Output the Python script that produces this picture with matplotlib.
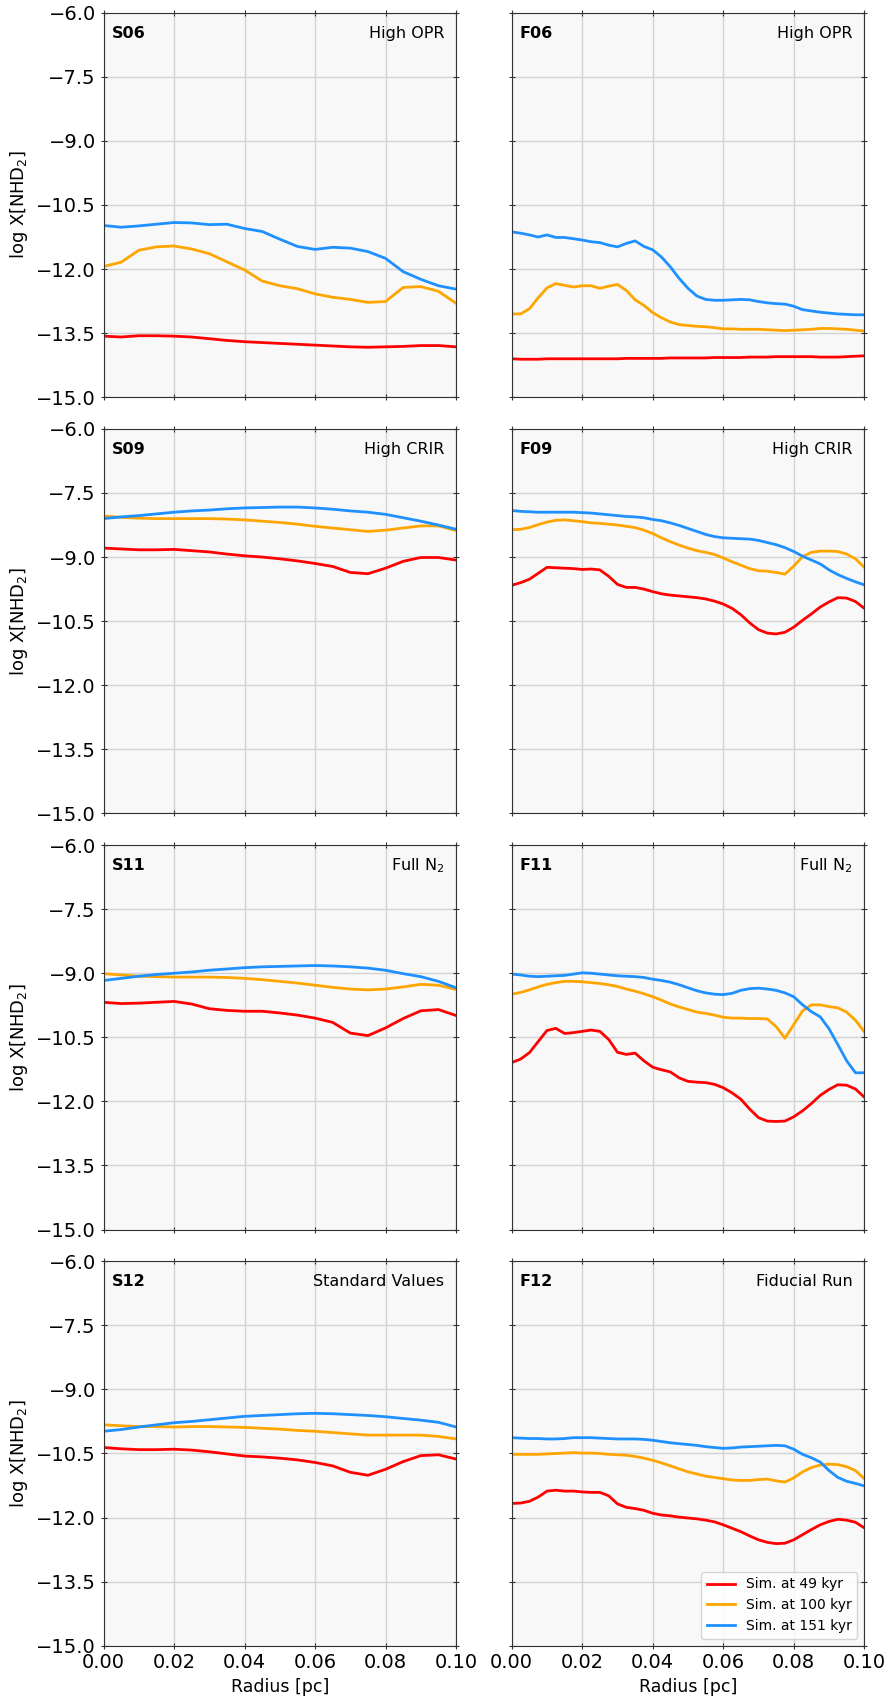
import numpy as np
import matplotlib
matplotlib.use('Agg')
import matplotlib.pyplot as plt
from matplotlib.ticker import FuncFormatter

# radius grids [pc]
r_left = np.linspace(0, 0.1, 21)     # S-runs, step 0.005
r_right = np.linspace(0, 0.1, 41)    # F-runs, step 0.0025

labels = ['Sim. at 49 kyr', 'Sim. at 100 kyr', 'Sim. at 151 kyr']
colors = ['#ff0000', '#ffa500', '#1e90ff']

# ---- S runs (log X[NHD2]) ----
s06_49 = [-13.57, -13.59, -13.56, -13.56, -13.57, -13.59, -13.63, -13.67, -13.70, -13.72, -13.74,
          -13.76, -13.78, -13.80, -13.82, -13.83, -13.82, -13.81, -13.79, -13.79, -13.82]
s06_100 = [-11.94, -11.84, -11.56, -11.48, -11.46, -11.53, -11.64, -11.83, -12.02, -12.28, -12.39,
           -12.46, -12.58, -12.66, -12.71, -12.78, -12.76, -12.43, -12.41, -12.52, -12.80]
s06_151 = [-10.98, -11.02, -10.99, -10.95, -10.91, -10.92, -10.96, -10.95, -11.05, -11.12, -11.30,
           -11.47, -11.54, -11.49, -11.51, -11.59, -11.75, -12.06, -12.24, -12.39, -12.47]

s09_49 = [-8.79, -8.81, -8.83, -8.83, -8.82, -8.85, -8.88, -8.93, -8.97, -9.00, -9.04,
          -9.09, -9.15, -9.22, -9.36, -9.39, -9.26, -9.10, -9.01, -9.01, -9.07]
s09_100 = [-8.04, -8.07, -8.09, -8.10, -8.10, -8.10, -8.10, -8.11, -8.13, -8.16, -8.19,
           -8.23, -8.28, -8.32, -8.36, -8.40, -8.37, -8.32, -8.27, -8.27, -8.38]
s09_151 = [-8.10, -8.06, -8.03, -7.99, -7.95, -7.92, -7.90, -7.87, -7.85, -7.84, -7.83,
           -7.83, -7.85, -7.88, -7.92, -7.95, -8.00, -8.08, -8.16, -8.25, -8.35]

s11_49 = [-9.68, -9.71, -9.70, -9.68, -9.66, -9.72, -9.83, -9.87, -9.89, -9.89, -9.93,
          -9.98, -10.05, -10.15, -10.40, -10.46, -10.28, -10.06, -9.88, -9.85, -9.99]
s11_100 = [-9.01, -9.04, -9.07, -9.08, -9.09, -9.09, -9.09, -9.10, -9.12, -9.15, -9.19,
           -9.23, -9.28, -9.33, -9.37, -9.39, -9.37, -9.32, -9.26, -9.28, -9.38]
s11_151 = [-9.17, -9.12, -9.07, -9.03, -9.00, -8.97, -8.93, -8.90, -8.87, -8.85, -8.84,
           -8.83, -8.82, -8.83, -8.85, -8.88, -8.93, -9.01, -9.08, -9.19, -9.34]

s12_49 = [-10.36, -10.39, -10.41, -10.41, -10.40, -10.42, -10.46, -10.51, -10.56, -10.58, -10.61,
          -10.65, -10.71, -10.79, -10.94, -11.01, -10.87, -10.69, -10.55, -10.53, -10.63]
s12_100 = [-9.83, -9.85, -9.87, -9.87, -9.88, -9.87, -9.87, -9.88, -9.89, -9.91, -9.93,
           -9.96, -9.98, -10.01, -10.04, -10.07, -10.07, -10.07, -10.07, -10.10, -10.16]
s12_151 = [-9.98, -9.94, -9.88, -9.83, -9.78, -9.75, -9.71, -9.67, -9.63, -9.61, -9.59,
           -9.57, -9.56, -9.57, -9.59, -9.61, -9.64, -9.68, -9.72, -9.77, -9.88]

# ---- F runs ----
f06_49 = [-14.10, -14.11, -14.11, -14.11, -14.10, -14.10, -14.10, -14.10, -14.10, -14.10,
          -14.10, -14.10, -14.10, -14.09, -14.09, -14.09, -14.09, -14.09, -14.08, -14.08,
          -14.08, -14.08, -14.08, -14.07, -14.07, -14.07, -14.07, -14.06, -14.06, -14.06,
          -14.05, -14.05, -14.05, -14.05, -14.05, -14.06, -14.06, -14.06, -14.05, -14.04, -14.03]
f06_100 = [-13.05, -13.05, -12.93, -12.67, -12.44, -12.34, -12.38, -12.42, -12.39, -12.39,
           -12.45, -12.40, -12.36, -12.50, -12.72, -12.85, -13.02, -13.14, -13.24, -13.30,
           -13.32, -13.34, -13.35, -13.37, -13.40, -13.40, -13.41, -13.41, -13.41, -13.42,
           -13.43, -13.44, -13.43, -13.42, -13.41, -13.39, -13.39, -13.40, -13.41, -13.43, -13.45]
f06_151 = [-11.13, -11.16, -11.20, -11.25, -11.20, -11.26, -11.26, -11.29, -11.32, -11.36,
           -11.38, -11.44, -11.48, -11.40, -11.34, -11.47, -11.55, -11.72, -11.95, -12.22,
           -12.45, -12.63, -12.71, -12.73, -12.73, -12.72, -12.71, -12.72, -12.76, -12.79,
           -12.81, -12.82, -12.87, -12.95, -12.98, -13.01, -13.03, -13.05, -13.06, -13.07, -13.07]

f09_49 = [-9.66, -9.60, -9.52, -9.38, -9.24, -9.25, -9.26, -9.27, -9.29, -9.28,
          -9.30, -9.45, -9.64, -9.71, -9.71, -9.75, -9.81, -9.86, -9.89, -9.91,
          -9.93, -9.95, -9.98, -10.03, -10.10, -10.20, -10.35, -10.54, -10.70, -10.78,
          -10.80, -10.76, -10.64, -10.48, -10.33, -10.17, -10.05, -9.95, -9.96, -10.04, -10.20]
f09_100 = [-8.36, -8.35, -8.31, -8.24, -8.18, -8.14, -8.13, -8.15, -8.17, -8.20,
           -8.21, -8.23, -8.25, -8.28, -8.31, -8.37, -8.45, -8.55, -8.64, -8.72,
           -8.79, -8.85, -8.89, -8.94, -9.02, -9.11, -9.19, -9.27, -9.32, -9.33,
           -9.36, -9.40, -9.21, -8.99, -8.89, -8.86, -8.86, -8.87, -8.93, -9.04, -9.24]
f09_151 = [-7.91, -7.93, -7.94, -7.95, -7.95, -7.95, -7.95, -7.95, -7.96, -7.97,
           -7.99, -8.01, -8.03, -8.05, -8.06, -8.08, -8.12, -8.15, -8.20, -8.26,
           -8.33, -8.40, -8.47, -8.52, -8.55, -8.56, -8.57, -8.58, -8.61, -8.66,
           -8.71, -8.78, -8.87, -8.98, -9.07, -9.16, -9.30, -9.41, -9.50, -9.58, -9.65]

f11_49 = [-11.09, -11.01, -10.86, -10.60, -10.34, -10.29, -10.41, -10.39, -10.36, -10.33,
          -10.36, -10.55, -10.85, -10.90, -10.87, -11.05, -11.20, -11.26, -11.31, -11.45,
          -11.53, -11.55, -11.56, -11.60, -11.68, -11.80, -11.95, -12.18, -12.38, -12.46,
          -12.47, -12.46, -12.36, -12.22, -12.05, -11.86, -11.72, -11.61, -11.62, -11.71, -11.90]
f11_100 = [-9.49, -9.45, -9.39, -9.32, -9.26, -9.22, -9.19, -9.19, -9.20, -9.22,
           -9.24, -9.27, -9.31, -9.37, -9.42, -9.48, -9.55, -9.63, -9.72, -9.79,
           -9.85, -9.91, -9.94, -9.98, -10.03, -10.05, -10.05, -10.06, -10.06, -10.07,
           -10.25, -10.52, -10.20, -9.88, -9.74, -9.74, -9.78, -9.81, -9.91, -10.10, -10.37]
f11_151 = [-9.02, -9.04, -9.07, -9.08, -9.07, -9.06, -9.05, -9.02, -8.99, -9.00,
           -9.02, -9.04, -9.06, -9.07, -9.08, -9.10, -9.14, -9.17, -9.21, -9.27,
           -9.34, -9.41, -9.46, -9.49, -9.50, -9.47, -9.40, -9.36, -9.35, -9.37,
           -9.40, -9.46, -9.55, -9.74, -9.90, -10.02, -10.30, -10.67, -11.05, -11.33, -11.33]

f12_49 = [-11.67, -11.66, -11.62, -11.52, -11.38, -11.36, -11.38, -11.38, -11.40, -11.41,
          -11.41, -11.49, -11.68, -11.76, -11.79, -11.83, -11.90, -11.94, -11.96, -11.99,
          -12.01, -12.03, -12.06, -12.10, -12.17, -12.25, -12.33, -12.43, -12.52, -12.58,
          -12.61, -12.60, -12.52, -12.40, -12.28, -12.17, -12.09, -12.04, -12.06, -12.11, -12.24]
f12_100 = [-10.52, -10.52, -10.52, -10.52, -10.51, -10.50, -10.49, -10.48, -10.49, -10.49,
           -10.50, -10.52, -10.53, -10.54, -10.57, -10.61, -10.66, -10.72, -10.79, -10.86,
           -10.93, -10.98, -11.03, -11.06, -11.09, -11.12, -11.13, -11.13, -11.11, -11.10,
           -11.14, -11.17, -11.07, -10.93, -10.83, -10.77, -10.75, -10.76, -10.81, -10.90, -11.09]
f12_151 = [-10.13, -10.14, -10.15, -10.15, -10.16, -10.16, -10.15, -10.13, -10.13, -10.13,
           -10.14, -10.15, -10.16, -10.16, -10.16, -10.17, -10.19, -10.22, -10.25, -10.27,
           -10.29, -10.31, -10.34, -10.36, -10.38, -10.37, -10.35, -10.34, -10.33, -10.32,
           -10.31, -10.32, -10.40, -10.52, -10.60, -10.70, -10.90, -11.06, -11.15, -11.20, -11.26]

panels = [
    ('S06', 'High OPR', r_left, [s06_49, s06_100, s06_151]),
    ('F06', 'High OPR', r_right, [f06_49, f06_100, f06_151]),
    ('S09', 'High CRIR', r_left, [s09_49, s09_100, s09_151]),
    ('F09', 'High CRIR', r_right, [f09_49, f09_100, f09_151]),
    ('S11', r'Full N$_2$', r_left, [s11_49, s11_100, s11_151]),
    ('F11', r'Full N$_2$', r_right, [f11_49, f11_100, f11_151]),
    ('S12', 'Standard Values', r_left, [s12_49, s12_100, s12_151]),
    ('F12', 'Fiducial Run', r_right, [f12_49, f12_100, f12_151]),
]

fig, axes = plt.subplots(4, 2, figsize=(8.9, 16.97), dpi=100, sharex=True, sharey=True)
fig.subplots_adjust(left=0.1163, right=0.9711, top=0.9925, bottom=0.0302,
                    wspace=0.158, hspace=0.0823)

for ax, (tag, name, r, series) in zip(axes.flat, panels):
    ax.set_facecolor('#f8f8f8')
    ax.grid(True, color='#d3d3d3', lw=1)
    ax.set_axisbelow(True)
    for y, c, lab in zip(series, colors, labels):
        ax.plot(r, y, color=c, lw=2, label=lab)
    ax.text(0.023, 0.946, tag, transform=ax.transAxes, fontsize=11.5,
            fontweight='bold', va='center', ha='left')
    ax.text(0.967, 0.946, name, transform=ax.transAxes, fontsize=11.5,
            va='center', ha='right')
    ax.tick_params(top=True, right=True, direction='inout', length=4,
                   labelsize=14, color='#333333')
    for s in ax.spines.values():
        s.set_color('#333333')


def minus_fmt(fmt):
    return FuncFormatter(lambda v, pos: (fmt % v).replace('-', '\u2212'))


ax0 = axes[0, 0]
ax0.set_xlim(0, 0.1)
ax0.set_ylim(-15, -6)
ax0.set_xticks(np.arange(0, 0.101, 0.02))
ax0.set_yticks(np.arange(-15, -5.9, 1.5))
ax0.xaxis.set_major_formatter(minus_fmt('%.2f'))
ax0.yaxis.set_major_formatter(minus_fmt('%.1f'))

for ax in axes[:, 0]:
    ax.set_ylabel(r'log X[NHD$_2$]', fontsize=13)
for ax in axes[-1, :]:
    ax.set_xlabel('Radius [pc]', fontsize=12.5)

axes[-1, 1].legend(loc='lower right', fontsize=10, fancybox=True)

plt.savefig('out.png', dpi=100)
